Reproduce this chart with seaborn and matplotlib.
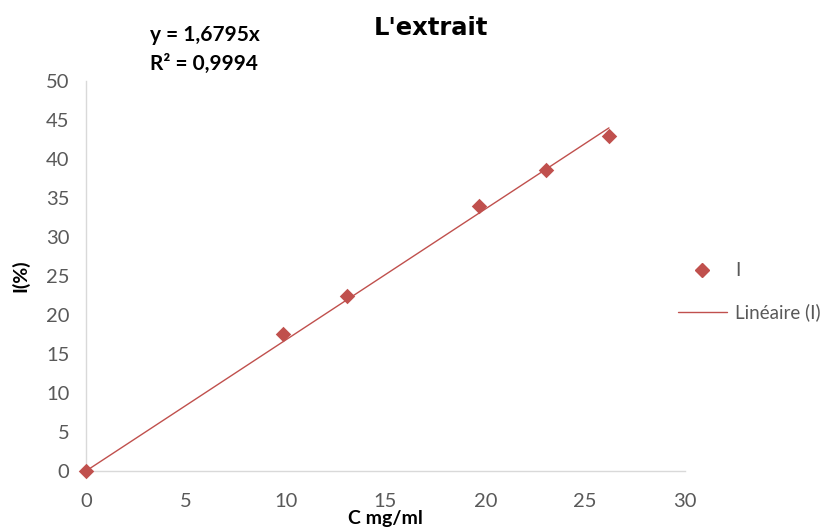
import matplotlib
matplotlib.use("Agg")
import matplotlib.pyplot as plt
import seaborn as sns
import numpy as np
import pandas as pd
from matplotlib.lines import Line2D

# Data
conc = [0, 9.87, 13.07, 19.68, 23.03, 26.19]
inhib = [0, 17.55, 22.4, 33.95, 38.6, 42.95]
slope = 1.6795
trend_x = [0, 26.19]
x_ticks = [0, 5, 10, 15, 20, 25, 30]
y_ticks = [0, 5, 10, 15, 20, 25, 30, 35, 40, 45, 50]

sns.set_theme(style="white")
plt.rcParams['font.family'] = ['Lato', 'DejaVu Sans']

red = "#C0504D"
grey_txt = "#595959"
axis_col = "#D9D9D9"

fig = plt.figure(figsize=(8.37, 5.31), dpi=100)
ax = fig.add_axes([86/837, 1-471/531, (685-86)/837, (471-81)/531])

df = pd.DataFrame({"C": conc, "I": inhib})
tdf = pd.DataFrame({"C": trend_x, "I": [slope*v for v in trend_x]})

sns.lineplot(data=tdf, x="C", y="I", ax=ax, color=red, linewidth=1.0, zorder=2)
sns.scatterplot(data=df, x="C", y="I", ax=ax, marker="D", s=62, color=red,
                edgecolor=red, linewidth=0, zorder=3, clip_on=False)

ax.set_xlim(0, 30)
ax.set_ylim(0, 50)
ax.set_xticks(x_ticks)
ax.set_yticks(y_ticks)
ax.tick_params(axis='both', labelsize=14.5, colors=grey_txt)
ax.tick_params(axis='x', direction='in', length=7, width=1, color=axis_col, pad=16)
ax.tick_params(axis='y', direction='out', length=7, width=1, color=axis_col, pad=5)
for s in ['top', 'right']:
    ax.spines[s].set_visible(False)
for s in ['left', 'bottom']:
    ax.spines[s].set_color(axis_col)
    ax.spines[s].set_linewidth(1)

ax.set_xlabel("C mg/ml", fontsize=14, fontweight='bold', color='black', labelpad=0)
ax.set_ylabel("I(%)", fontsize=14, fontweight='bold', color='black', labelpad=12)

fig.text(431/837, 1-28/531, "L'extrait", ha='center', va='center', fontsize=17.5,
         fontweight='bold', color='black', family='DejaVu Sans')
fig.text(150/837, 1-35/531, "y = 1,6795x", ha='left', va='center', fontsize=15,
         fontweight='bold', color='black')
fig.text(150/837, 1-64/531, "R² = 0,9994", ha='left', va='center', fontsize=15,
         fontweight='bold', color='black')

handles = [Line2D([], [], marker='D', color=red, linestyle='None', markersize=7),
           Line2D([], [], color=red, linewidth=1.0)]
leg = fig.legend(handles, ["I", "Linéaire (I)"], loc='center left',
                 bbox_to_anchor=(678/837, 1-292/531), frameon=False,
                 fontsize=13.5, labelcolor=grey_txt, handlelength=2.6,
                 labelspacing=1.3, handletextpad=0.45, borderpad=0,
                 borderaxespad=0)

fig.savefig("out.png", dpi=100)
